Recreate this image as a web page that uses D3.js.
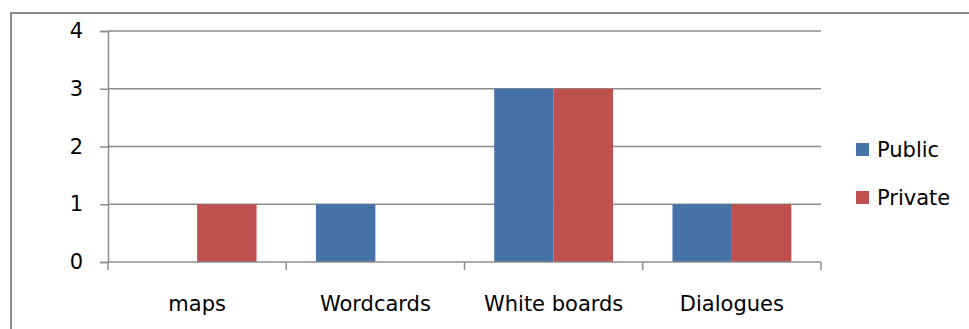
<!DOCTYPE html>
<html>
<head>
<meta charset="utf-8">
<script src="https://cdn.jsdelivr.net/npm/d3@7/dist/d3.min.js"></script>
<style>
  html, body { margin: 0; padding: 0; background: #fff; }
  svg { display: block; }
  text { font-family: "DejaVu Sans", "Liberation Sans", sans-serif; fill: #000; }
</style>
</head>
<body>
<svg id="chart" width="969" height="329"></svg>
<script>
// Chart data
const categories = ["maps", "Wordcards", "White boards", "Dialogues"];
const seriesNames = ["Public", "Private"];
const publicValues = [0, 1, 3, 1];
const privateValues = [1, 0, 3, 1];
const yTicks = [0, 1, 2, 3, 4];
const colors = ["#4572A7", "#C0504D"];

const svg = d3.select("#chart");
const W = 969, H = 329;
const fontFamily = "DejaVu Sans";
const fontSize = 21;

// Outer frame (runs past the right and bottom edges)
svg.append("rect")
  .attr("x", 11).attr("y", 13)
  .attr("width", W + 20).attr("height", H + 20)
  .attr("fill", "none").attr("stroke", "#8a8a8a").attr("stroke-width", 2);

const plot = { left: 108, right: 821, top: 31, bottom: 262 };

const x0 = d3.scaleBand()
  .domain(categories)
  .range([plot.left, plot.right])
  .paddingInner(0).paddingOuter(0);

const x1 = d3.scaleBand()
  .domain(seriesNames)
  .range([0, x0.bandwidth()])
  .paddingInner(0).paddingOuter(0.5);

const y = d3.scaleLinear().domain([0, 4]).range([plot.bottom, plot.top]);

const gridColor = "#8c8c8c";

// Horizontal gridlines
svg.append("g").selectAll("line")
  .data(yTicks.filter(d => d > 0))
  .join("line")
  .attr("x1", plot.left).attr("x2", plot.right)
  .attr("y1", d => y(d)).attr("y2", d => y(d))
  .attr("stroke", gridColor).attr("stroke-width", 1.5);

// Bars
const rows = categories.map((c, i) => ({ cat: c, vals: [publicValues[i], privateValues[i]] }));
svg.append("g").selectAll("g")
  .data(rows)
  .join("g")
  .attr("transform", d => `translate(${x0(d.cat)},0)`)
  .selectAll("rect")
  .data(d => d.vals.map((v, k) => ({ key: seriesNames[k], v, k })))
  .join("rect")
  .attr("x", d => x1(d.key))
  .attr("width", x1.bandwidth())
  .attr("y", d => y(d.v))
  .attr("height", d => y(0) - y(d.v))
  .attr("fill", d => colors[d.k]);

// Y axis
const yAxis = svg.append("g")
  .attr("transform", `translate(${plot.left},0)`)
  .call(d3.axisLeft(y).tickValues(yTicks).tickFormat(d3.format("d")).tickSize(8).tickPadding(17));
yAxis.select(".domain").attr("stroke", gridColor).attr("stroke-width", 1.5);
yAxis.selectAll(".tick line").attr("stroke", gridColor).attr("stroke-width", 1.5);
yAxis.selectAll(".tick text").attr("font-size", fontSize).attr("font-family", fontFamily);

// X axis
const xAxis = svg.append("g")
  .attr("transform", `translate(0,${plot.bottom})`)
  .call(d3.axisBottom(x0).tickSize(0).tickPadding(34));
xAxis.select(".domain").remove();
xAxis.selectAll(".tick text").attr("font-size", fontSize).attr("font-family", fontFamily);
svg.append("line")
  .attr("x1", plot.left).attr("x2", plot.right)
  .attr("y1", plot.bottom).attr("y2", plot.bottom)
  .attr("stroke", gridColor).attr("stroke-width", 1.5);
// Category boundary ticks
const bounds = categories.map(c => x0(c)).concat([plot.right]);
svg.append("g").selectAll("line")
  .data(bounds)
  .join("line")
  .attr("x1", d => d).attr("x2", d => d)
  .attr("y1", plot.bottom).attr("y2", plot.bottom + 8)
  .attr("stroke", gridColor).attr("stroke-width", 1.5);

// Legend
const legend = svg.append("g").attr("transform", "translate(856,143)");
seriesNames.forEach((name, i) => {
  const g = legend.append("g").attr("transform", `translate(0,${i * 48})`);
  g.append("rect").attr("width", 13).attr("height", 13).attr("fill", colors[i]);
  g.append("text").attr("x", 21).attr("y", 14).attr("font-size", fontSize)
    .attr("font-family", fontFamily).text(name);
});
</script>
</body>
</html>
